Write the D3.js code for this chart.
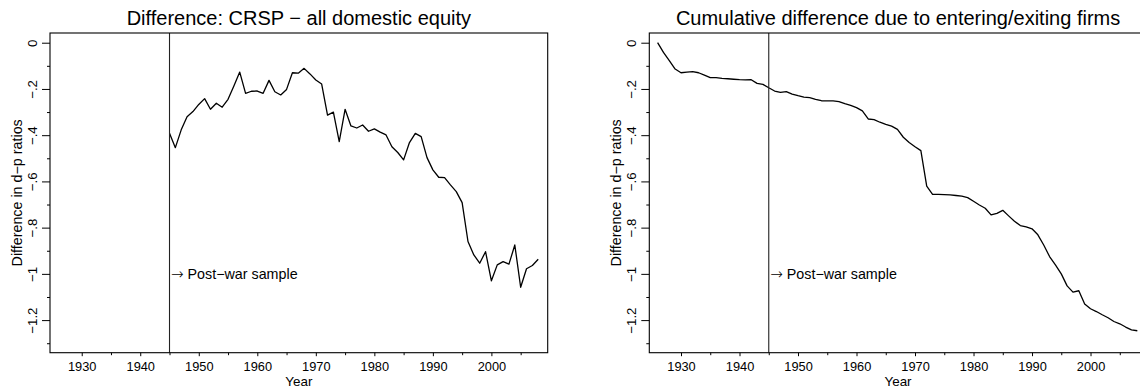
<!DOCTYPE html>
<html>
<head>
<meta charset="utf-8">
<script src="https://cdn.jsdelivr.net/npm/d3@7"></script>
<style>
  html, body { margin: 0; padding: 0; background: #fff; }
  svg { display: block; font-family: "Liberation Sans", Arial, Helvetica, sans-serif; }
</style>
</head>
<body>
<svg id="chart" width="1140" height="390"></svg>
<script>
// ---------- data ----------
const leftTitle = "Difference: CRSP \u2212 all domestic equity";
const rightTitle = "Cumulative difference due to entering/exiting firms";
const xLabel = "Year";
const yLabel = "Difference in d\u2212p ratios";
const annotationArrow = "\u2192";
const annotation = " Post\u2212war sample";
const annotationYear = 1945;
const annotationValue = -1.0;

const xTicks = [1930, 1940, 1950, 1960, 1970, 1980, 1990, 2000];
const xMinorTicks = [1935, 1945, 1955, 1965, 1975, 1985, 1995, 2005];
const yTicks = [0, -0.2, -0.4, -0.6, -0.8, -1.0, -1.2];
const yTickLabels = ["0", "\u2212.2", "\u2212.4", "\u2212.6", "\u2212.8", "\u22121", "\u22121.2"];
const yMinorTicks = [-0.1, -0.3, -0.5, -0.7, -0.9, -1.1, -1.3];

const leftYears = [1945,1946,1947,1948,1949,1950,1951,1952,1953,1954,1955,1956,1957,1958,1959,
  1960,1961,1962,1963,1964,1965,1966,1967,1968,1969,1970,1971,1972,1973,1974,1975,1976,1977,1978,1979,
  1980,1981,1982,1983,1984,1985,1986,1987,1988,1989,1990,1991,1992,1993,1994,1995,1996,1997,1998,1999,
  2000,2001,2002,2003,2004,2005,2006,2007,2008];
const leftValues = [-0.392,-0.454,-0.377,-0.320,-0.298,-0.267,-0.242,-0.288,-0.262,-0.279,-0.245,-0.187,-0.127,-0.219,-0.210,
  -0.209,-0.219,-0.163,-0.212,-0.226,-0.202,-0.130,-0.132,-0.111,-0.135,-0.161,-0.179,-0.313,-0.300,-0.428,-0.288,-0.360,-0.369,-0.356,-0.383,
  -0.373,-0.387,-0.399,-0.450,-0.475,-0.507,-0.432,-0.392,-0.406,-0.497,-0.550,-0.582,-0.584,-0.615,-0.644,-0.692,-0.860,-0.918,-0.954,-0.904,
  -1.030,-0.961,-0.947,-0.958,-0.875,-1.058,-0.978,-0.964,-0.937];

const rightYears = [1926,1927,1928,1929,1930,1931,1932,1933,1934,1935,1936,1937,1938,1939,
  1940,1941,1942,1943,1944,1945,1946,1947,1948,1949,1950,1951,1952,1953,1954,1955,1956,1957,1958,1959,
  1960,1961,1962,1963,1964,1965,1966,1967,1968,1969,1970,1971,1972,1973,1974,1975,1976,1977,1978,1979,
  1980,1981,1982,1983,1984,1985,1986,1987,1988,1989,1990,1991,1992,1993,1994,1995,1996,1997,1998,1999,
  2000,2001,2002,2003,2004,2005,2006,2007,2008];
const rightValues = [0.000,-0.042,-0.078,-0.114,-0.130,-0.127,-0.125,-0.130,-0.140,-0.151,-0.151,-0.154,-0.156,-0.158,
  -0.160,-0.161,-0.160,-0.176,-0.180,-0.195,-0.209,-0.215,-0.212,-0.222,-0.229,-0.235,-0.238,-0.245,-0.251,-0.252,-0.252,-0.255,-0.264,-0.271,
  -0.281,-0.295,-0.330,-0.333,-0.344,-0.353,-0.361,-0.375,-0.409,-0.432,-0.450,-0.467,-0.620,-0.656,-0.656,-0.657,-0.658,-0.661,-0.664,-0.670,
  -0.686,-0.702,-0.716,-0.745,-0.738,-0.725,-0.749,-0.772,-0.791,-0.797,-0.805,-0.831,-0.875,-0.925,-0.961,-1.000,-1.052,-1.079,-1.073,-1.130,
  -1.151,-1.163,-1.177,-1.190,-1.206,-1.216,-1.230,-1.242,-1.246];

const xDomain = [1924.58, 2009.62];
const yDomain = [-1.341, 0.042];

// ---------- drawing ----------
const svg = d3.select("#chart");
const plotTop = 33, plotBottom = 352.7;
const fs = 12.8;

function panel(left, right, title, years, values) {
  const g = svg.append("g");
  const x = d3.scaleLinear().domain(xDomain).range([left, right]);
  const y = d3.scaleLinear().domain(yDomain).range([plotBottom, plotTop]);

  // series line
  const line = d3.line().x((d, i) => x(years[i])).y(d => y(d));
  g.append("path").datum(values)
    .attr("d", line).attr("fill", "none")
    .attr("stroke", "#000").attr("stroke-width", 1.3)
    .attr("stroke-linejoin", "round");

  // vertical line at post-war start
  g.append("line")
    .attr("x1", x(annotationYear)).attr("x2", x(annotationYear))
    .attr("y1", plotTop).attr("y2", plotBottom)
    .attr("stroke", "#222").attr("stroke-width", 1.1);

  // annotation
  const ann = g.append("text")
    .attr("x", x(annotationYear) + 1.5).attr("y", y(annotationValue) + 5)
    .attr("font-size", 14.3).attr("fill", "#000");
  ann.append("tspan").attr("font-family", "DejaVu Sans").attr("font-size", 15)
    .attr("font-weight", 200).text(annotationArrow);
  ann.append("tspan").text(annotation);

  // x axis
  const xAxis = d3.axisBottom(x).tickValues(xTicks).tickFormat(d3.format("d"))
    .tickSize(3.5).tickPadding(6);
  const gx = g.append("g").attr("transform", `translate(0,${plotBottom})`).call(xAxis);
  gx.select(".domain").remove();
  gx.selectAll("text").attr("font-size", fs).attr("font-family", null).attr("fill", "#000");
  gx.selectAll("line").attr("stroke", "#000");
  const xMinor = d3.axisBottom(x).tickValues(xMinorTicks).tickFormat("").tickSize(2.5);
  const gxm = g.append("g").attr("transform", `translate(0,${plotBottom})`).call(xMinor);
  gxm.select(".domain").remove();
  gxm.selectAll("line").attr("stroke", "#000");

  // y axis
  const yAxis = d3.axisLeft(y).tickValues(yTicks).tickFormat((d, i) => yTickLabels[i])
    .tickSize(8);
  const gy = g.append("g").attr("transform", `translate(${left},0)`).call(yAxis);
  gy.select(".domain").remove();
  gy.selectAll("line").attr("stroke", "#000");
  gy.selectAll("text")
    .attr("font-size", 13.3).attr("font-family", null).attr("fill", "#000")
    .attr("x", null).attr("dy", null)
    .attr("text-anchor", "middle")
    .attr("transform", "translate(-13.3,0) rotate(-90)");
  const yMinor = d3.axisLeft(y).tickValues(yMinorTicks).tickFormat("").tickSize(3);
  const gym = g.append("g").attr("transform", `translate(${left},0)`).call(yMinor);
  gym.select(".domain").remove();
  gym.selectAll("line").attr("stroke", "#000");

  // frame
  g.append("rect")
    .attr("x", left).attr("y", plotTop)
    .attr("width", right - left).attr("height", plotBottom - plotTop)
    .attr("fill", "none").attr("stroke", "#000").attr("stroke-width", 1.1);

  // title
  g.append("text")
    .attr("x", (left + right) / 2).attr("y", 25)
    .attr("text-anchor", "middle").attr("font-size", 20).attr("fill", "#000")
    .text(title);

  // axis titles
  g.append("text")
    .attr("x", (left + right) / 2).attr("y", 386)
    .attr("text-anchor", "middle").attr("font-size", 13.4).attr("fill", "#000")
    .text(xLabel);
  g.append("text")
    .attr("transform", `translate(${left - 28.3},${(plotTop + plotBottom) / 2}) rotate(-90)`)
    .attr("text-anchor", "middle").attr("font-size", 14.3).attr("fill", "#000")
    .text(yLabel);
}

panel(50, 547.7, leftTitle, leftYears, leftValues);
panel(649.3, 1146.8, rightTitle, rightYears, rightValues);
</script>
</body>
</html>
